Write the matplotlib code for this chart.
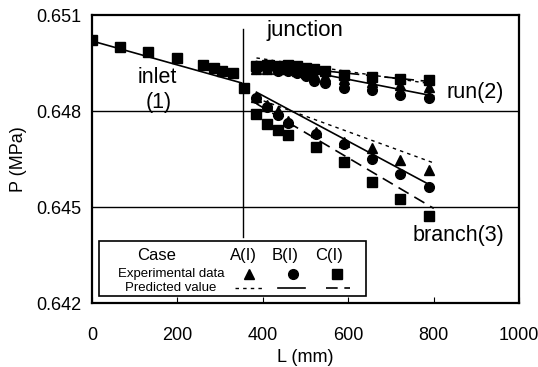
import numpy as np
import matplotlib
matplotlib.use("Agg")
import matplotlib.pyplot as plt
from matplotlib.patches import Rectangle
from matplotlib.lines import Line2D

plt.rcParams['font.family'] = ['Liberation Sans', 'DejaVu Sans']

# inlet section (all cases collapse onto the same points)
inlet_L = [0, 65, 130, 200, 260, 285, 305, 330, 357]
inlet_P = [0.65022, 0.65000, 0.64984, 0.64966, 0.64944, 0.64934, 0.64925, 0.64919, 0.64872]

# run section
run_L = [385, 410, 435, 460, 480, 500, 520, 545, 590, 655, 720, 790]
run_A = [0.6493, 0.6493, 0.64932, 0.6493, 0.64925, 0.6492, 0.64915, 0.6491, 0.6490, 0.6489, 0.6488, 0.64875]
run_B = [0.6493, 0.6493, 0.64925, 0.64925, 0.6492, 0.6491, 0.64895, 0.64888, 0.64872, 0.64866, 0.6485, 0.64841]
run_C = [0.6494, 0.64945, 0.6494, 0.64945, 0.6494, 0.64935, 0.6493, 0.64925, 0.64913, 0.64906, 0.6490, 0.64897]

# branch section
br_L = [385, 410, 435, 460, 525, 590, 655, 720, 790]
br_A = [0.64845, 0.6482, 0.6480, 0.6477, 0.64734, 0.64703, 0.64684, 0.64647, 0.64616]
br_B = [0.64841, 0.64813, 0.64788, 0.64763, 0.64728, 0.64697, 0.64650, 0.64603, 0.64563]
br_C = [0.64791, 0.64759, 0.64741, 0.64725, 0.64688, 0.64641, 0.64578, 0.64525, 0.64472]

# predicted lines (end points)
inlet_line = ([0, 350], [0.65019, 0.64888])
run_pred_L = [385, 800]
run_pred = {'A': [0.64966, 0.64884], 'B': [0.64955, 0.64847], 'C': [0.64947, 0.64891]}
br_pred_L = [385, 800]
br_pred = {'A': [0.64840, 0.64638], 'B': [0.64859, 0.64563], 'C': [0.64823, 0.64496]}

styles = {'A': dict(ls=(0, (2.5, 3)), lw=1.0),
          'B': dict(ls='-', lw=1.2),
          'C': dict(ls=(0, (7, 4)), lw=1.2)}
marks = {'A': '^', 'B': 'o', 'C': 's'}

fig = plt.figure(figsize=(5.38, 3.67), dpi=100)
ax = fig.add_axes([0.171, 0.174, 0.794, 0.785])

ax.set_xlim(0, 1000)
ax.set_ylim(0.642, 0.651)

for y in (0.645, 0.648):
    ax.axhline(y, color='black', lw=1.0)
ax.axvline(354, ymin=0.229, ymax=0.951, color='black', lw=1.0)

ax.plot(*inlet_line, color='black', lw=1.2)
for k in 'ABC':
    ax.plot(run_pred_L, run_pred[k], color='black', **styles[k])
    ax.plot(br_pred_L, br_pred[k], color='black', **styles[k])

ms = 7
ax.plot(run_L, run_A, '^', color='black', ms=ms)
ax.plot(br_L, br_A, '^', color='black', ms=ms)
ax.plot(run_L, run_B, 'o', color='black', ms=ms)
ax.plot(br_L, br_B, 'o', color='black', ms=ms)
ax.plot(run_L, run_C, 's', color='black', ms=ms)
ax.plot(br_L, br_C, 's', color='black', ms=ms)
ax.plot(inlet_L, inlet_P, 's', color='black', ms=ms)

ax.text(408, 0.65053, 'junction', fontsize=16, va='center', ha='left')
ax.text(152, 0.64905, 'inlet', fontsize=15.5, va='center', ha='center')
ax.text(155, 0.64828, '(1)', fontsize=15.5, va='center', ha='center')
ax.text(830, 0.64859, 'run(2)', fontsize=15.5, va='center', ha='left')
ax.text(750, 0.64410, 'branch(3)', fontsize=15.5, va='center', ha='left')

# legend box drawn by hand, in axes fraction
tr = ax.transAxes
ax.add_patch(Rectangle((0.016, 0.024), 0.626, 0.191, transform=tr,
                       fill=True, fc='white', ec='black', lw=1.2, zorder=5))
def fx(px):
    return (px - 92) / 427.0
def fy(py):
    return (303 - py) / 288.0
ax.text(fx(157), fy(255), 'Case', transform=tr, fontsize=12, ha='center', va='center', zorder=6)
ax.text(fx(171), fy(274), 'Experimental data', transform=tr, fontsize=9.5, ha='center', va='center', zorder=6)
ax.text(fx(171), fy(288), 'Predicted value', transform=tr, fontsize=9.5, ha='center', va='center', zorder=6)
heads = {'A': 243, 'B': 285, 'C': 329}
symx = {'A': 249, 'B': 293, 'C': 337}
linex = {'A': (235, 262), 'B': (278, 305), 'C': (326, 350)}
for k in 'ABC':
    ax.text(fx(heads[k]), fy(255), k + '(I)', transform=tr, fontsize=12,
            ha='center', va='center', zorder=6)
    ax.plot([fx(symx[k])], [fy(274)], marks[k], color='black', ms=7,
            transform=tr, zorder=6)
    x0, x1 = linex[k]
    ax.add_line(Line2D([fx(x0), fx(x1)], [fy(288), fy(288)], transform=tr,
                       color='black', zorder=6, **styles[k]))

ax.set_xticks([0, 200, 400, 600, 800, 1000])
ax.set_yticks([0.642, 0.645, 0.648, 0.651])
ax.set_yticklabels(['0.642', '0.645', '0.648', '0.651'])
ax.tick_params(axis='x', direction='in', length=4, labelsize=13, pad=17)
ax.tick_params(axis='y', length=0, labelsize=13, pad=8)
for s in ax.spines.values():
    s.set_linewidth(1.6)

ax.set_xlabel('L (mm)', fontsize=13, labelpad=4)
ax.set_ylabel('P (MPa)', fontsize=13, labelpad=6)

fig.savefig('out.png', dpi=100)
